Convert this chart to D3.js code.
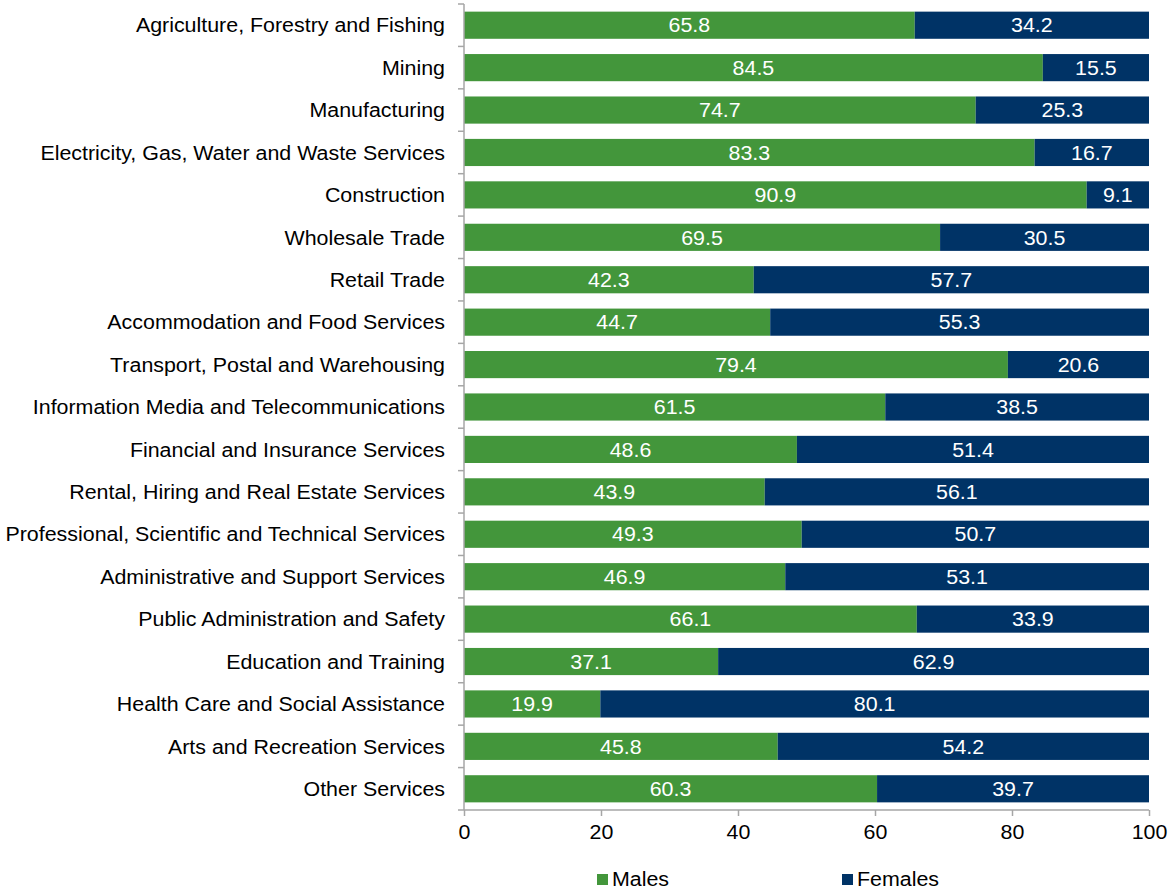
<!DOCTYPE html>
<html><head><meta charset="utf-8">
<script src="https://cdn.jsdelivr.net/npm/d3@7/dist/d3.min.js"></script>
<style>body{margin:0;background:#fff;font-family:"Liberation Sans",Arial,sans-serif;}</style>
</head><body><svg id="c" width="1169" height="891"></svg>
<script>
const categories = ["Agriculture, Forestry and Fishing","Mining","Manufacturing","Electricity, Gas, Water and Waste Services","Construction","Wholesale Trade","Retail Trade","Accommodation and Food Services","Transport, Postal and Warehousing","Information Media and Telecommunications","Financial and Insurance Services","Rental, Hiring and Real Estate Services","Professional, Scientific and Technical Services","Administrative and Support Services","Public Administration and Safety","Education and Training","Health Care and Social Assistance","Arts and Recreation Services","Other Services"];
const males = [65.8,84.5,74.7,83.3,90.9,69.5,42.3,44.7,79.4,61.5,48.6,43.9,49.3,46.9,66.1,37.1,19.9,45.8,60.3];
const females = [34.2,15.5,25.3,16.7,9.1,30.5,57.7,55.3,20.6,38.5,51.4,56.1,50.7,53.1,33.9,62.9,80.1,54.2,39.7];
const xTicks = [0,20,40,60,80,100];
const seriesNames = ["Males","Females"];
const colors = ["#43963b","#003366"];

const svg = d3.select("#c");
const L = 464, R = 1149, T = 4, B = 810;
const FS = 20, SX = 1.07;
const x = d3.scaleLinear().domain([0,100]).range([L,R]);
const y = d3.scaleBand().domain(categories).range([T,B]).paddingInner(0.36).paddingOuter(0.18);
const font = "Liberation Sans, Arial, sans-serif";

function txt(sel){
  return sel.attr("font-family",font).attr("font-size",FS).attr("dy","0.36em");
}

const data = categories.map((c,i)=>({c, m:males[i], f:females[i]}));
const stack = d3.stack().keys(["m","f"])(data);

stack.forEach((s,si)=>{
  svg.append("g").selectAll("rect").data(s).join("rect")
    .attr("x", d=>x(d[0])).attr("width", d=>x(d[1])-x(d[0]))
    .attr("y", d=>y(d.data.c)).attr("height", y.bandwidth())
    .attr("fill", colors[si]);
  txt(svg.append("g").selectAll("text").data(s).join("text"))
    .attr("transform", d=>`translate(${(x(d[0])+x(d[1]))/2},${y(d.data.c)+y.bandwidth()/2}) scale(${SX},1)`)
    .attr("text-anchor","middle").attr("fill","#fff")
    .text(d=>(d[1]-d[0]).toFixed(1));
});

// y axis
const ya = svg.append("g");
ya.append("line").attr("x1",L).attr("x2",L).attr("y1",T).attr("y2",B).attr("stroke","#a6a6a6").attr("stroke-width",1.5);
const step = (B-T)/categories.length;
d3.range(categories.length+1).forEach(i=>{
  ya.append("line").attr("x1",L-6).attr("x2",L).attr("y1",T+i*step).attr("y2",T+i*step).attr("stroke","#a6a6a6").attr("stroke-width",1.5);
});
txt(ya.selectAll("text").data(categories).join("text"))
  .attr("transform",d=>`translate(445,${y(d)+y.bandwidth()/2}) scale(${SX},1)`)
  .attr("text-anchor","end").attr("fill","#000")
  .text(d=>d);

// x axis
const xa = svg.append("g").attr("transform",`translate(0,${B})`)
  .call(d3.axisBottom(x).tickValues(xTicks).tickSize(6).tickPadding(8).tickFormat(d3.format("d")));
xa.select(".domain").attr("stroke","#a6a6a6").attr("stroke-width",1.5).attr("d",`M${L},0H${R}`);
xa.selectAll(".tick line").attr("stroke","#a6a6a6").attr("stroke-width",1.5);
xa.selectAll(".tick text").attr("font-family",font).attr("font-size",FS).attr("fill","#000")
  .attr("y",null).attr("dy",null).attr("transform",`translate(0,29) scale(${SX},1)`);

// legend
const lg = svg.append("g");
const lx = [597, 842];
seriesNames.forEach((n,i)=>{
  lg.append("rect").attr("x",lx[i]).attr("y",874).attr("width",11).attr("height",11).attr("fill",colors[i]);
  txt(lg.append("text")).attr("transform",`translate(${lx[i]+15},879) scale(${SX},1)`).attr("fill","#000").text(n);
});
</script></body></html>
